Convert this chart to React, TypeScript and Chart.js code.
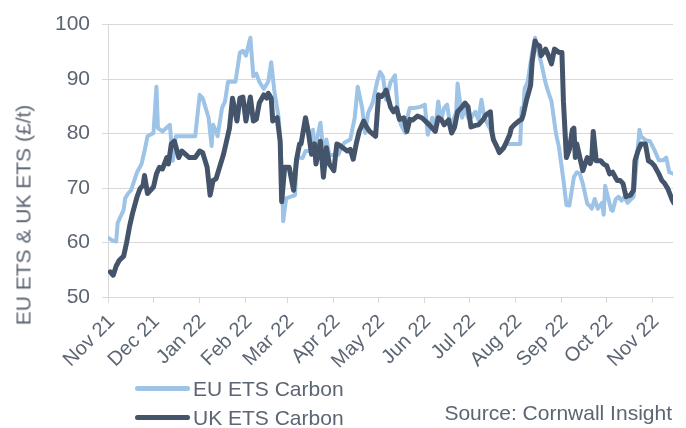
import React, { useEffect, useRef } from "react";
import { Chart, registerables } from "chart.js";

Chart.register(...registerables);

// Days counted from 1 Nov 2021
const monthDays = [0, 30, 61, 92, 120, 151, 181, 212, 242, 273, 304, 334, 365];
const monthLabels = ["Nov 21", "Dec 21", "Jan 22", "Feb 22", "Mar 22", "Apr 22", "May 22", "Jun 22", "Jul 22", "Aug 22", "Sep 22", "Oct 22", "Nov 22"];

const euDays = [0, 3, 5, 6, 10, 11, 13, 15, 19, 22, 24, 26, 30, 32, 33, 36, 41, 43, 45, 51, 54, 58, 61, 63, 67, 69, 70, 72, 73, 76, 78, 80, 85, 88, 90, 92, 95, 97, 99, 101, 104, 107, 109, 111, 114, 116, 117, 119, 125, 126, 130, 132, 135, 137, 138, 142, 144, 146, 148, 151, 154, 156, 158, 162, 165, 167, 170, 172, 174, 177, 180, 182, 184, 186, 189, 192, 194, 196, 199, 201, 202, 205, 209, 212, 214, 217, 219, 221, 223, 225, 227, 229, 231, 233, 234, 237, 239, 241, 243, 246, 248, 250, 252, 256, 258, 260, 262, 265, 266, 269, 274, 276, 277, 278, 279, 281, 284, 286, 288, 290, 293, 295, 297, 300, 302, 305, 307, 309, 312, 314, 316, 318, 321, 323, 324, 326, 328, 331, 332, 333, 335, 337, 338, 340, 342, 344, 346, 348, 352, 354, 356, 357, 360, 363, 366, 369, 372, 374, 376, 379];
const euValues = [60.8, 60.3, 60.2, 63.6, 66.0, 68.1, 69.0, 69.6, 72.9, 74.4, 76.8, 79.5, 80.1, 88.6, 81.0, 80.4, 81.6, 75.0, 79.5, 79.5, 79.5, 79.5, 87.1, 86.5, 82.9, 77.7, 81.6, 80.4, 79.5, 84.7, 85.9, 89.5, 89.5, 94.9, 95.2, 94.3, 97.6, 90.5, 91.0, 89.5, 88.2, 89.5, 93.1, 88.0, 82.9, 73.8, 63.9, 68.1, 68.7, 75.6, 75.5, 76.8, 76.8, 80.7, 76.8, 82.0, 76.8, 78.9, 76.0, 76.1, 76.1, 77.4, 78.3, 78.9, 82.9, 88.6, 84.7, 80.1, 83.8, 85.6, 89.5, 91.3, 90.4, 86.2, 89.4, 90.7, 83.8, 81.6, 80.1, 83.8, 84.7, 84.7, 84.9, 85.3, 79.8, 82.9, 80.4, 85.9, 82.5, 84.7, 85.3, 81.6, 82.5, 83.8, 89.2, 82.9, 84.7, 82.9, 82.9, 84.0, 82.5, 86.2, 82.9, 80.8, 79.0, 77.8, 76.8, 77.6, 78.1, 78.1, 78.1, 78.1, 84.7, 83.8, 88.3, 89.5, 94.9, 97.6, 95.2, 93.1, 89.3, 87.5, 85.9, 80.0, 77.5, 71.5, 66.9, 66.8, 72.0, 72.9, 72.6, 70.8, 67.1, 66.6, 66.2, 68.0, 66.2, 67.3, 65.1, 70.4, 68.2, 66.0, 65.8, 67.9, 68.4, 67.7, 68.4, 67.3, 68.4, 74.5, 80.7, 79.5, 78.8, 78.6, 77.0, 75.1, 75.1, 75.6, 72.9, 72.6];

const ukDays = [1, 3, 5, 7, 10, 12, 14, 16, 19, 21, 23, 24, 26, 30, 32, 34, 36, 39, 40, 42, 44, 47, 49, 51, 54, 58, 61, 63, 66, 68, 70, 72, 75, 77, 79, 81, 83, 86, 88, 90, 92, 95, 97, 99, 101, 104, 106, 107, 109, 110, 113, 115, 116, 118, 121, 124, 126, 128, 129, 132, 134, 136, 138, 139, 142, 144, 146, 148, 151, 153, 155, 157, 160, 162, 164, 166, 168, 171, 173, 175, 179, 181, 183, 185, 186, 189, 191, 193, 195, 198, 200, 202, 204, 207, 210, 212, 215, 219, 221, 223, 225, 228, 230, 232, 234, 237, 239, 241, 243, 246, 248, 251, 253, 256, 257, 258, 260, 262, 265, 267, 269, 270, 272, 275, 277, 278, 280, 283, 284, 286, 287, 289, 290, 293, 295, 297, 299, 302, 304, 305, 307, 309, 311, 312, 313, 314, 316, 318, 321, 323, 324, 325, 327, 330, 332, 334, 336, 338, 341, 343, 345, 347, 350, 352, 353, 355, 357, 360, 362, 364, 366, 369, 371, 373, 375, 378, 379];
const ukValues = [54.6, 54.0, 55.7, 56.7, 57.5, 60.0, 63.0, 65.4, 68.4, 69.9, 70.5, 72.3, 69.0, 70.2, 72.6, 73.8, 73.5, 75.6, 74.4, 78.1, 78.6, 75.6, 76.8, 76.3, 75.6, 75.6, 76.8, 76.5, 73.8, 68.7, 71.4, 71.7, 74.4, 76.2, 78.6, 81.0, 86.5, 82.3, 86.5, 86.7, 82.3, 86.7, 82.3, 82.6, 85.6, 87.1, 86.5, 87.4, 86.5, 82.3, 82.9, 78.6, 67.5, 73.8, 73.8, 69.6, 75.3, 78.1, 78.1, 82.9, 80.1, 76.2, 78.1, 74.4, 78.6, 72.0, 77.4, 74.4, 73.2, 78.1, 77.8, 77.4, 76.8, 77.1, 75.3, 78.1, 80.4, 82.3, 81.2, 80.4, 79.5, 87.1, 86.8, 87.4, 88.0, 84.9, 84.0, 84.7, 82.6, 82.9, 80.4, 82.6, 82.5, 83.2, 82.9, 82.4, 81.6, 80.4, 82.9, 82.6, 81.6, 82.5, 80.1, 81.2, 84.0, 84.9, 85.6, 84.9, 81.2, 81.5, 81.6, 82.5, 83.4, 84.0, 80.4, 78.9, 77.8, 76.5, 77.4, 78.6, 79.8, 81.0, 81.6, 82.3, 82.6, 83.4, 85.9, 88.9, 93.1, 97.0, 96.4, 96.1, 94.3, 95.5, 94.3, 92.8, 95.5, 94.9, 94.9, 85.9, 75.6, 77.1, 80.7, 81.0, 75.6, 78.1, 75.6, 73.2, 75.6, 74.5, 75.3, 80.4, 75.0, 75.0, 74.4, 74.1, 72.6, 72.9, 71.4, 71.4, 70.8, 68.4, 68.7, 69.6, 75.0, 76.8, 78.1, 78.1, 75.0, 74.7, 74.1, 72.6, 71.4, 70.8, 69.9, 67.8, 67.3];

const seriesNames = ["EU ETS Carbon", "UK ETS Carbon"];
const seriesColors = ["#9DC3E6", "#44546A"];
const yTitle = "EU ETS & UK ETS (£/t)";
const sourceText = "Source: Cornwall Insight";

const FONT = "'Liberation Sans', Arial, sans-serif";
const TEXT = "#5B6573";
const GRID = "#D9D9D9";

export default function App() {
  const ref = useRef<HTMLCanvasElement | null>(null);

  useEffect(() => {
    document.body.style.margin = "0";
    const canvas = ref.current;
    if (!canvas) return;
    const chart = new Chart(canvas, {
      type: "line",
      data: {
        datasets: [
          {
            label: seriesNames[0],
            data: euDays.map((d, i) => ({ x: d, y: euValues[i] })),
            borderColor: seriesColors[0],
            backgroundColor: seriesColors[0],
            borderWidth: 4,
            pointRadius: 0,
            tension: 0,
            borderJoinStyle: "round",
            borderCapStyle: "round",
            order: 2,
          },
          {
            label: seriesNames[1],
            data: ukDays.map((d, i) => ({ x: d, y: ukValues[i] })),
            borderColor: seriesColors[1],
            backgroundColor: seriesColors[1],
            borderWidth: 5,
            pointRadius: 0,
            tension: 0,
            borderJoinStyle: "round",
            borderCapStyle: "round",
            order: 1,
          },
        ],
      },
      options: {
        animation: false,
        responsive: false,
        maintainAspectRatio: false,
        layout: { padding: { left: 0, right: 13, top: 17, bottom: 0 } },
        plugins: { legend: { display: false }, tooltip: { enabled: false } },
        scales: {
          x: {
            type: "linear",
            min: -0.5,
            max: 378.5,
            afterBuildTicks: (s: any) => {
              s.ticks = monthDays.map((v) => ({ value: v }));
            },
            afterFit: (s: any) => {
              s.height = 131;
            },
            ticks: {
              autoSkip: false,
              maxRotation: 45,
              minRotation: 45,
              padding: 7,
              labelOffset: 3,
              color: TEXT,
              font: { family: FONT, size: 20 },
              callback: (v: any) => {
                const i = monthDays.indexOf(Number(v));
                return i >= 0 ? monthLabels[i] : "";
              },
            },
            grid: { drawOnChartArea: false, drawTicks: true, tickLength: 6, color: GRID },
            border: { display: true, color: GRID },
          },
          y: {
            min: 50,
            max: 100,
            afterFit: (s: any) => {
              s.width = 108;
            },
            ticks: {
              stepSize: 10,
              padding: 12,
              color: TEXT,
              font: { family: FONT, size: 21 },
            },
            grid: { color: GRID, drawTicks: true, tickLength: 6 },
            border: { display: true, color: GRID },
          },
        },
      },
    });
    return () => chart.destroy();
  }, []);

  const textStyle: React.CSSProperties = {
    position: "absolute",
    fontFamily: FONT,
    fontSize: 21,
    color: TEXT,
    whiteSpace: "nowrap",
    lineHeight: "1",
  };

  return (
    <div style={{ position: "fixed", left: 0, top: 0, width: 686, height: 428, background: "#fff" }}>
      <canvas ref={ref} width={686} height={428} style={{ position: "absolute", left: 0, top: 0, width: 686, height: 428 }} />
      <div style={{ ...textStyle, left: 23, top: 215, transform: "translate(-50%, -50%) rotate(-90deg)" }}>{yTitle}</div>
      <div style={{ position: "absolute", left: 135, top: 386, width: 55, height: 5, borderRadius: 3, background: seriesColors[0] }} />
      <div style={{ ...textStyle, left: 193, top: 378 }}>{seriesNames[0]}</div>
      <div style={{ position: "absolute", left: 135, top: 415, width: 55, height: 5, borderRadius: 3, background: seriesColors[1] }} />
      <div style={{ ...textStyle, left: 193, top: 407 }}>{seriesNames[1]}</div>
      <div style={{ ...textStyle, right: 14, top: 402 }}>{sourceText}</div>
    </div>
  );
}
